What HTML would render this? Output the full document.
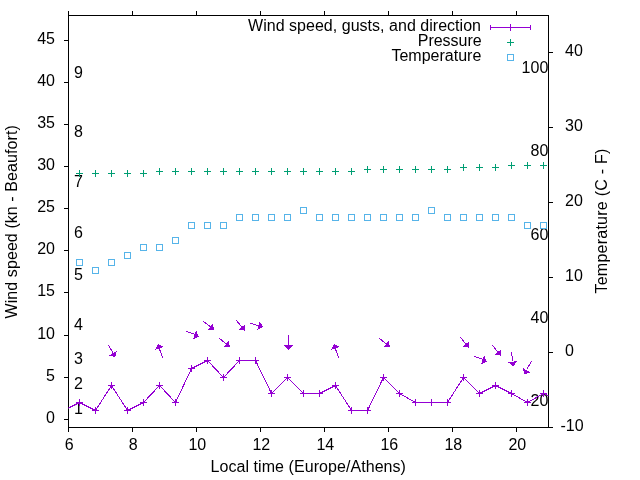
<!DOCTYPE html><html><head><meta charset="utf-8"><style>html,body{margin:0;padding:0;background:#fff;}svg{display:block;will-change:transform;font-family:"Liberation Sans",sans-serif;}</style></head><body>
<svg width="640" height="480" viewBox="0 0 640 480">
<rect x="0" y="0" width="640" height="480" fill="#fff"/>
<defs><clipPath id="c"><rect x="68.5" y="15.5" width="480" height="412"/></clipPath></defs>
<path d="M68.5,15.5H548.5V427.5H68.5ZM68.5,427.5v4.5M68.5,15.5v-4.5M132.5,427.5v4.5M132.5,15.5v-4.5M196.5,427.5v4.5M196.5,15.5v-4.5M260.5,427.5v4.5M260.5,15.5v-4.5M324.5,427.5v4.5M324.5,15.5v-4.5M388.5,427.5v4.5M388.5,15.5v-4.5M452.5,427.5v4.5M452.5,15.5v-4.5M516.5,427.5v4.5M516.5,15.5v-4.5M68.5,419.5h-4.5M68.5,377.5h-4.5M68.5,335.5h-4.5M68.5,292.5h-4.5M68.5,250.5h-4.5M68.5,208.5h-4.5M68.5,166.5h-4.5M68.5,124.5h-4.5M68.5,82.5h-4.5M68.5,40.5h-4.5M548.5,427.5h4.5M548.5,352.5h4.5M548.5,277.5h4.5M548.5,202.5h4.5M548.5,127.5h4.5M548.5,52.5h4.5" fill="none" stroke="#000" stroke-width="1" shape-rendering="crispEdges"/>
<g font-size="16" fill="#000"><text x="55" y="423.0" text-anchor="end">0</text><text x="55" y="381.0" text-anchor="end">5</text><text x="55" y="339.0" text-anchor="end">10</text><text x="55" y="296.0" text-anchor="end">15</text><text x="55" y="254.0" text-anchor="end">20</text><text x="55" y="212.0" text-anchor="end">25</text><text x="55" y="170.0" text-anchor="end">30</text><text x="55" y="128.0" text-anchor="end">35</text><text x="55" y="86.0" text-anchor="end">40</text><text x="55" y="44.0" text-anchor="end">45</text><text x="560.5" y="431.0" text-anchor="start">-10</text><text x="565" y="356.0" text-anchor="start">0</text><text x="565" y="281.0" text-anchor="start">10</text><text x="565" y="206.0" text-anchor="start">20</text><text x="565" y="131.0" text-anchor="start">30</text><text x="565" y="56.0" text-anchor="start">40</text><text x="69.3" y="450" text-anchor="middle">6</text><text x="133.3" y="450" text-anchor="middle">8</text><text x="197.3" y="450" text-anchor="middle">10</text><text x="261.3" y="450" text-anchor="middle">12</text><text x="325.3" y="450" text-anchor="middle">14</text><text x="389.3" y="450" text-anchor="middle">16</text><text x="453.3" y="450" text-anchor="middle">18</text><text x="517.3" y="450" text-anchor="middle">20</text><text x="74" y="414" text-anchor="start">1</text><text x="74" y="389" text-anchor="start">2</text><text x="74" y="364" text-anchor="start">3</text><text x="74" y="330" text-anchor="start">4</text><text x="74" y="280" text-anchor="start">5</text><text x="74" y="238" text-anchor="start">6</text><text x="74" y="187" text-anchor="start">7</text><text x="74" y="137" text-anchor="start">8</text><text x="74" y="78" text-anchor="start">9</text><text x="548.3" y="406" text-anchor="end">20</text><text x="548.3" y="323" text-anchor="end">40</text><text x="548.3" y="240" text-anchor="end">60</text><text x="548.3" y="156" text-anchor="end">80</text><text x="548.3" y="73" text-anchor="end">100</text><text x="481" y="31" text-anchor="end" textLength="233" lengthAdjust="spacing">Wind speed, gusts, and direction</text><text x="481.75" y="46" text-anchor="end">Pressure</text><text x="481.3" y="61" text-anchor="end">Temperature</text><text x="308.2" y="472" text-anchor="middle" textLength="195.5" lengthAdjust="spacing">Local time (Europe/Athens)</text><text x="0" y="0" text-anchor="middle" textLength="193.3" lengthAdjust="spacing" transform="translate(17,221.85) rotate(-90)">Wind speed (kn - Beaufort)</text><text x="0" y="0" text-anchor="middle" textLength="145" lengthAdjust="spacing" transform="translate(607,221.1) rotate(-90)">Temperature (C - F)</text></g>
<g clip-path="url(#c)">
<polyline points="63.5,410.5 79.5,402.5 95.5,410.5 111.5,385.5 127.5,410.5 143.5,402.5 159.5,385.5 175.5,402.5 191.5,368.5 207.5,360.5 223.5,377.5 239.5,360.5 255.5,360.5 271.5,393.5 287.5,377.5 303.5,393.5 319.5,393.5 335.5,385.5 351.5,410.5 367.5,410.5 383.5,377.5 399.5,393.5 415.5,402.5 431.5,402.5 447.5,402.5 463.5,377.5 479.5,393.5 495.5,385.5 511.5,393.5 527.5,402.5 543.5,393.5 559.5,400.5" fill="none" stroke="#9400d3" stroke-width="1" shape-rendering="crispEdges"/>
<path d="M76.0,402.5h7M79.5,399.0v7M92.0,410.5h7M95.5,407.0v7M108.0,385.5h7M111.5,382.0v7M124.0,410.5h7M127.5,407.0v7M140.0,402.5h7M143.5,399.0v7M156.0,385.5h7M159.5,382.0v7M172.0,402.5h7M175.5,399.0v7M188.0,368.5h7M191.5,365.0v7M204.0,360.5h7M207.5,357.0v7M220.0,377.5h7M223.5,374.0v7M236.0,360.5h7M239.5,357.0v7M252.0,360.5h7M255.5,357.0v7M268.0,393.5h7M271.5,390.0v7M284.0,377.5h7M287.5,374.0v7M300.0,393.5h7M303.5,390.0v7M316.0,393.5h7M319.5,390.0v7M332.0,385.5h7M335.5,382.0v7M348.0,410.5h7M351.5,407.0v7M364.0,410.5h7M367.5,407.0v7M380.0,377.5h7M383.5,374.0v7M396.0,393.5h7M399.5,390.0v7M412.0,402.5h7M415.5,399.0v7M428.0,402.5h7M431.5,399.0v7M444.0,402.5h7M447.5,399.0v7M460.0,377.5h7M463.5,374.0v7M476.0,393.5h7M479.5,390.0v7M492.0,385.5h7M495.5,382.0v7M508.0,393.5h7M511.5,390.0v7M524.0,402.5h7M527.5,399.0v7M540.0,393.5h7M543.5,390.0v7" stroke="#9400d3" stroke-width="1" fill="none" shape-rendering="crispEdges"/>
<path d="M76.0,173.5h7M79.5,170.0v7M92.0,173.5h7M95.5,170.0v7M108.0,173.5h7M111.5,170.0v7M124.0,173.5h7M127.5,170.0v7M140.0,173.5h7M143.5,170.0v7M156.0,171.5h7M159.5,168.0v7M172.0,171.5h7M175.5,168.0v7M188.0,171.5h7M191.5,168.0v7M204.0,171.5h7M207.5,168.0v7M220.0,171.5h7M223.5,168.0v7M236.0,171.5h7M239.5,168.0v7M252.0,171.5h7M255.5,168.0v7M268.0,171.5h7M271.5,168.0v7M284.0,171.5h7M287.5,168.0v7M300.0,171.5h7M303.5,168.0v7M316.0,171.5h7M319.5,168.0v7M332.0,171.5h7M335.5,168.0v7M348.0,171.5h7M351.5,168.0v7M364.0,169.5h7M367.5,166.0v7M380.0,169.5h7M383.5,166.0v7M396.0,169.5h7M399.5,166.0v7M412.0,169.5h7M415.5,166.0v7M428.0,169.5h7M431.5,166.0v7M444.0,169.5h7M447.5,166.0v7M460.0,167.5h7M463.5,164.0v7M476.0,167.5h7M479.5,164.0v7M492.0,167.5h7M495.5,164.0v7M508.0,165.5h7M511.5,162.0v7M524.0,165.5h7M527.5,162.0v7M540.0,165.5h7M543.5,162.0v7" stroke="#009e73" stroke-width="1" fill="none" shape-rendering="crispEdges"/>
<path d="M76.5,259.5h6v6h-6zM92.5,267.5h6v6h-6zM108.5,259.5h6v6h-6zM124.5,252.5h6v6h-6zM140.5,244.5h6v6h-6zM156.5,244.5h6v6h-6zM172.5,237.5h6v6h-6zM188.5,222.5h6v6h-6zM204.5,222.5h6v6h-6zM220.5,222.5h6v6h-6zM236.5,214.5h6v6h-6zM252.5,214.5h6v6h-6zM268.5,214.5h6v6h-6zM284.5,214.5h6v6h-6zM300.5,207.5h6v6h-6zM316.5,214.5h6v6h-6zM332.5,214.5h6v6h-6zM348.5,214.5h6v6h-6zM364.5,214.5h6v6h-6zM380.5,214.5h6v6h-6zM396.5,214.5h6v6h-6zM412.5,214.5h6v6h-6zM428.5,207.5h6v6h-6zM444.5,214.5h6v6h-6zM460.5,214.5h6v6h-6zM476.5,214.5h6v6h-6zM492.5,214.5h6v6h-6zM508.5,214.5h6v6h-6zM524.5,222.5h6v6h-6zM540.5,222.5h6v6h-6z" stroke="#56b4e9" stroke-width="1" fill="none" shape-rendering="crispEdges"/>
<path d="M108.40,345.30L112.86,352.41M162.50,357.70L159.29,348.35M186.10,331.30L194.57,334.35M203.40,321.40L210.26,326.69M219.30,338.30L226.12,343.81M236.30,320.40L241.82,327.06M250.10,323.30L258.48,325.66M288.50,335.00L288.50,345.40M338.50,357.70L335.29,348.35M379.40,338.40L386.15,343.75M460.40,337.30L465.82,344.02M474.10,356.30L482.57,359.35M492.40,345.30L497.82,352.02M511.50,352.20L512.68,360.95M531.50,361.40L526.59,369.47" stroke="#9400d3" stroke-width="1" fill="none" shape-rendering="crispEdges"/>
<path d="M115.30,357.10L116.75,350.76L108.96,355.65ZM157.80,344.00L154.94,349.84L163.64,346.86ZM198.90,336.50L196.13,330.62L193.02,339.27ZM213.90,329.50L213.07,323.05L207.45,330.33ZM229.70,346.70L229.01,340.24L223.24,347.39ZM244.75,330.60L245.36,324.13L238.28,329.99ZM262.90,326.90L259.72,321.23L257.23,330.08ZM288.50,350.00L293.10,345.40L283.90,345.40ZM333.80,344.00L330.94,349.84L339.64,346.86ZM389.75,346.60L389.00,340.14L383.29,347.35ZM468.70,347.60L469.39,341.14L462.24,346.91ZM486.90,361.50L484.13,355.62L481.02,364.27ZM500.70,355.60L501.39,349.14L494.24,354.91ZM513.30,366.30L517.24,361.13L508.13,362.36ZM524.20,374.20L530.52,372.66L522.66,367.88Z" fill="#9400d3" shape-rendering="crispEdges"/>
</g>
<path d="M490.5,27.5h40M490.5,25v5M530.5,25v5M510.5,24v7" stroke="#9400d3" stroke-width="1" fill="none" shape-rendering="crispEdges"/>
<path d="M507,42.5h7M510.5,39v7" stroke="#009e73" stroke-width="1" fill="none" shape-rendering="crispEdges"/>
<path d="M507.5,54.5h6v6h-6z" stroke="#56b4e9" stroke-width="1" fill="none" shape-rendering="crispEdges"/>
</svg></body></html>
